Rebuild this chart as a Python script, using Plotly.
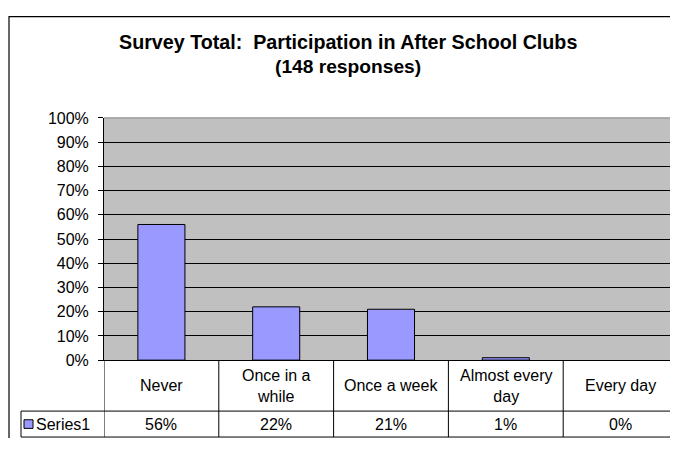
import plotly.graph_objects as go

# ---- data ----
categories = ["Never", "Once in a while", "Once a week", "Almost every day", "Every day"]
category_labels = ["Never", "Once in a<br>while", "Once a week", "Almost every<br>day", "Every day"]
values_pct = [56, 22, 21, 1, 0]
series_name = "Series1"
y_ticks = [0, 10, 20, 30, 40, 50, 60, 70, 80, 90, 100]
title_line1 = "Survey Total:\u00a0 Participation in After School Clubs"
title_line2 = "(148 responses)"

# the page body has an 8px margin; the figure is sized to fit inside the window
OX, OY = 8, 8
W, H = 670, 439
FONT = "Arial, 'Liberation Sans', sans-serif"

def px_x(x):  # x in window pixels -> paper
    return (x - OX) / W

def px_y(y):  # y in window pixels -> paper
    return (H - (y - OY)) / H

plot_left, plot_top, plot_bottom = 104, 114, 366
row_sep, table_bottom, table_left = 419, 446, 21

fig = go.Figure()
fig.add_trace(go.Bar(
    x=list(range(len(categories))),
    y=[v / 100 for v in values_pct],
    name=series_name,
    marker=dict(color="#9999FF",
                line=dict(color="black", width=[1 if v > 0 else 0 for v in values_pct])),
    showlegend=False,
    hoverinfo="skip",
))

shapes = []
# outer chart border (top and left edges are the only ones inside the picture)
shapes.append(dict(type="line", xref="paper", yref="paper",
                   x0=px_x(9), x1=1, y0=1 - 0.6 / H, y1=1 - 0.6 / H,
                   line=dict(color="#000000", width=1.2), layer="below"))
shapes.append(dict(type="line", xref="paper", yref="paper",
                   x0=px_x(9), x1=px_x(9), y0=0, y1=1,
                   line=dict(color="#000000", width=1.2), layer="below"))
# plot area top border (grey)
shapes.append(dict(type="line", xref="paper", yref="paper",
                   x0=px_x(plot_left), x1=1, y0=px_y(plot_top), y1=px_y(plot_top),
                   line=dict(color="#808080", width=1)))
# table horizontal lines
for yy in (row_sep, table_bottom):
    shapes.append(dict(type="line", xref="paper", yref="paper",
                       x0=px_x(table_left), x1=1, y0=px_y(yy), y1=px_y(yy),
                       line=dict(color="black", width=1)))
# table left edge for series row
shapes.append(dict(type="line", xref="paper", yref="paper",
                   x0=px_x(table_left), x1=px_x(table_left),
                   y0=px_y(row_sep), y1=px_y(table_bottom),
                   line=dict(color="black", width=1)))
# column separators (on category scale)
for i in range(len(categories) + 1):
    shapes.append(dict(type="line", xref="x", yref="paper",
                       x0=i - 0.5, x1=i - 0.5,
                       y0=px_y(plot_bottom), y1=px_y(table_bottom),
                       line=dict(color="black", width=1)))
# legend key square
shapes.append(dict(type="rect", xref="paper", yref="paper",
                   x0=px_x(24), x1=px_x(33), y0=px_y(437), y1=px_y(428),
                   fillcolor="#9999FF", line=dict(color="black", width=1)))

annotations = []
annotations.append(dict(text="<b>" + title_line1 + "</b>", xref="paper", yref="paper",
                        x=px_x(348), y=px_y(35), showarrow=False,
                        xanchor="center", yanchor="middle",
                        font=dict(family=FONT, size=19.7, color="black")))
annotations.append(dict(text="<b>" + title_line2 + "</b>", xref="paper", yref="paper",
                        x=px_x(348), y=px_y(61), showarrow=False,
                        xanchor="center", yanchor="middle",
                        font=dict(family=FONT, size=19.2, color="black")))
for i, (lab, v) in enumerate(zip(category_labels, values_pct)):
    annotations.append(dict(text=lab, xref="x", yref="paper", x=i, y=px_y((plot_bottom + row_sep) / 2),
                            showarrow=False, xanchor="center", yanchor="middle",
                            font=dict(family=FONT, size=16, color="black")))
    annotations.append(dict(text=f"{v}%", xref="x", yref="paper", x=i, y=px_y((row_sep + table_bottom) / 2),
                            showarrow=False, xanchor="center", yanchor="middle",
                            font=dict(family=FONT, size=16, color="black")))
annotations.append(dict(text=series_name, xref="paper", yref="paper", x=px_x(34),
                        y=px_y((row_sep + table_bottom) / 2), showarrow=False,
                        xanchor="left", yanchor="middle",
                        font=dict(family=FONT, size=16, color="black")))

fig.update_layout(
    width=W, height=H,
    margin=dict(l=0, r=0, t=0, b=0),
    paper_bgcolor="white",
    plot_bgcolor="#C0C0C0",
    bargap=0.59,
    shapes=shapes,
    annotations=annotations,
    xaxis=dict(domain=[px_x(plot_left), 1], range=[-0.5, len(categories) - 0.5],
               showticklabels=False, ticks="", showgrid=False, zeroline=False,
               showline=True, linecolor="black", linewidth=1, fixedrange=True),
    yaxis=dict(domain=[px_y(plot_bottom), px_y(plot_top)], range=[0, 1],
               tickvals=[t / 100 for t in y_ticks], ticktext=[f"{t}%" for t in y_ticks],
               ticks="outside", ticklen=5, tickcolor="black", tickwidth=1,
               ticklabelstandoff=6,
               showgrid=True, gridcolor="black", gridwidth=1, zeroline=False,
               showline=True, linecolor="black", linewidth=1,
               tickfont=dict(family=FONT, size=16, color="black"), fixedrange=True),
)

fig.write_html("out.html")
